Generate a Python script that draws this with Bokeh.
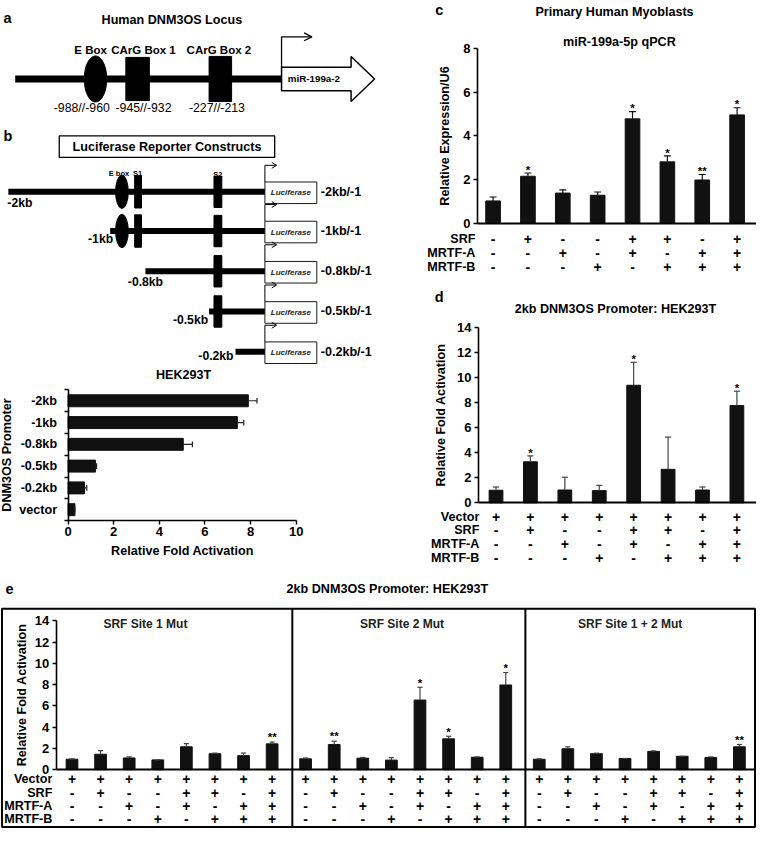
from bokeh.plotting import figure
from bokeh.models import Range1d, LinearAxis, FixedTicker
from bokeh.embed import file_html
from bokeh.resources import INLINE
from bokeh.core.properties import value

FONT = "Liberation Sans"

# ---------------- data ----------------
a_site_labels = ["-988//-960", "-945//-932", "-227//-213"]
a_element_labels = ["E Box", "CArG Box 1", "CArG Box 2"]

b_row_starts = ["-2kb", "-1kb", "-0.8kb", "-0.5kb", "-0.2kb"]
b_row_names = ["-2kb/-1", "-1kb/-1", "-0.8kb/-1", "-0.5kb/-1", "-0.2kb/-1"]

b_constructs = ["-2kb", "-1kb", "-0.8kb", "-0.5kb", "-0.2kb", "vector"]
b_values = [7.90, 7.42, 5.05, 1.20, 0.72, 0.30]
b_errors = [0.38, 0.28, 0.40, 0.05, 0.10, 0.00]
b_ticks = [0, 2, 4, 6, 8, 10]

cond_labels = ["Vector", "SRF", "MRTF-A", "MRTF-B"]
cond_vector = ["+", "+", "+", "+", "+", "+", "+", "+"]
cond_srf = ["-", "+", "-", "-", "+", "+", "-", "+"]
cond_mrtfa = ["-", "-", "+", "-", "+", "-", "+", "+"]
cond_mrtfb = ["-", "-", "-", "+", "-", "+", "+", "+"]

c_values = [1.02, 2.15, 1.38, 1.28, 4.78, 2.81, 1.98, 4.96]
c_errors = [0.18, 0.15, 0.15, 0.15, 0.33, 0.27, 0.25, 0.33]
c_sig = ["", "*", "", "", "*", "*", "**", "*"]
c_ticks = [0, 2, 4, 6, 8]

d_values = [1.00, 3.27, 1.02, 0.97, 9.37, 2.67, 1.02, 7.75]
d_errors = [0.26, 0.47, 1.02, 0.42, 1.83, 2.57, 0.24, 1.15]
d_sig = ["", "*", "", "", "*", "", "", "*"]
d_ticks = [0, 2, 4, 6, 8, 10, 12, 14]

e_groups = ["SRF Site 1 Mut", "SRF Site 2 Mut", "SRF Site 1 + 2 Mut"]
e_site1_values = [0.98, 1.45, 1.10, 0.92, 2.15, 1.50, 1.32, 2.43]
e_site1_errors = [0.04, 0.35, 0.10, 0.00, 0.30, 0.05, 0.23, 0.17]
e_site1_sig = ["", "", "", "", "", "", "", "**"]
e_site2_values = [1.02, 2.37, 1.08, 0.90, 6.55, 2.90, 1.17, 7.97]
e_site2_errors = [0.08, 0.31, 0.07, 0.23, 1.20, 0.24, 0.03, 1.17]
e_site2_sig = ["", "**", "", "", "*", "*", "", "*"]
e_site12_values = [0.98, 1.97, 1.50, 1.05, 1.72, 1.26, 1.14, 2.15]
e_site12_errors = [0.04, 0.18, 0.05, 0.00, 0.05, 0.00, 0.06, 0.22]
e_site12_sig = ["", "", "", "", "", "", "", "**"]
e_ticks = [0, 2, 4, 6, 8, 10, 12, 14]

# ---------------- canvas (reference pixel frame) ----------------
W, H = 772, 845
p = figure(width=756, height=829, x_range=Range1d(0, W), y_range=Range1d(H, 0),
           x_axis_type=None, y_axis_type=None, toolbar_location=None,
           output_backend="svg", min_border=0)
p.outline_line_color = None

TXT = "12.6px"


def xrange_px(origin, scale):
    return Range1d((0 - origin) / scale, (W - origin) / scale)


def yrange_px(origin, scale):
    return Range1d((origin - H) / scale, origin / scale)


p.extra_x_ranges = {"bx": xrange_px(69, 23.3), "cx": xrange_px(503, 35.6),
                    "dx": xrange_px(506, 35.14), "ex": xrange_px(73, 29.2)}
p.extra_y_ranges = {"by": yrange_px(519, 22.2), "cy": yrange_px(227, 22.25),
                    "dy": yrange_px(512, 12.786), "ey": yrange_px(784, 10.83)}


def txt(x, y, s, size=TXT, align="center", style="bold", baseline="middle",
        color="black", xr="default", yr="default"):
    p.text(x=x, y=y, text=s, text_font=value(FONT), text_font_size=size,
           text_font_style=style, text_align=align, text_baseline=baseline,
           text_color=color, x_range_name=xr, y_range_name=yr)


def style_axis(ax, standoff=3, label_standoff=6):
    ax.axis_line_color = "black"
    ax.axis_line_width = 1.6
    ax.major_tick_line_color = "black"
    ax.major_tick_line_width = 1.4
    ax.major_tick_out = 4
    ax.major_tick_in = 0
    ax.minor_tick_line_color = None
    ax.major_label_text_font = FONT
    ax.major_label_text_font_style = "bold"
    ax.major_label_text_font_size = "13px"
    ax.major_label_text_color = "black"
    ax.axis_label_text_font = FONT
    ax.axis_label_text_font_style = "bold"
    ax.axis_label_text_font_size = TXT
    ax.axis_label_text_color = "black"
    ax.major_label_standoff = standoff
    ax.axis_label_standoff = label_standoff


def baseline_axis(xr, yr, lo, hi):
    ax = LinearAxis(x_range_name=xr, y_range_name=yr, fixed_location=0,
                    ticker=FixedTicker(ticks=[]), bounds=(lo, hi))
    ax.axis_line_color = "black"
    ax.axis_line_width = 1.8
    ax.major_tick_line_color = None
    ax.minor_tick_line_color = None
    ax.major_label_text_font_size = "0px"
    p.add_layout(ax, "below")


def vbars(pos, vals, errs, sig, width, cap, star_off, xr, yr, err_color="#222"):
    tops = [v + e for v, e in zip(vals, errs)]
    p.vbar(x=pos, top=vals, bottom=0, width=width, color="#111111",
           x_range_name=xr, y_range_name=yr)
    p.segment(x0=pos, x1=pos, y0=vals, y1=tops, line_color=err_color, line_width=1.2,
              x_range_name=xr, y_range_name=yr)
    p.segment(x0=[x - cap for x in pos], x1=[x + cap for x in pos], y0=tops, y1=tops,
              line_color=err_color, line_width=1.2, x_range_name=xr, y_range_name=yr)
    txt(pos, [t + star_off for t in tops], sig, size="11.5px", baseline="alphabetic",
        xr=xr, yr=yr)


def table(pos, rows, row_y, label_x, xr):
    for row, y, lab in zip(rows, row_y, cond_labels[-len(rows):]):
        txt(pos, [y] * len(pos), row, size="14px", xr=xr)
        txt([label_x], [y], [lab], size=TXT, align="right")


# ---------------- panel a ----------------
txt([3], [18], ["a"], size="14.5px", align="left")
txt([175], [20], ["Human DNM3OS Locus"])
p.line([15, 287], [80, 80], line_width=7, color="black")
p.ellipse(x=[97], y=[80], width=[23], height=[47], color="black")
p.rect(x=[140, 224.5], y=[80, 80], width=[24, 23], height=[44, 46], color="black")
txt([92, 146, 223], [50, 50, 50], a_element_labels, size="11.5px")
txt([83, 146, 221], [110, 110, 110], a_site_labels, size="12.3px", style="normal")
p.patch([287, 358, 358, 382, 358, 358, 287], [68, 68, 57, 80, 103, 92, 92],
        fill_color="white", line_color="black", line_width=1.5)
p.line([287, 287, 316], [68, 37, 37], line_width=1.3, color="black")
p.line([310, 318, 310], [33, 37, 41], line_width=1.3, color="black")
txt([320], [80], ["miR-199a-2"], size="9.8px")

# ---------------- panel b: constructs ----------------
txt([3], [138], ["b"], size="14.5px", align="left")
p.quad(left=[60], right=[280], top=[138], bottom=[160], fill_color="white",
       line_color="black", line_width=1.3)
txt([170], [149.5], ["Luciferase Reporter Constructs"])
row_y = [195, 235, 276, 317, 358]
row_x0 = [8, 112, 148, 213, 240]
p.multi_line([[x0, 270] for x0 in row_x0], [[y, y] for y in row_y], line_width=6, color="black")
p.ellipse(x=[124, 124], y=row_y[:2], width=[13, 13], height=[34, 34], color="black")
p.rect(x=[140.5, 140.5], y=row_y[:2], width=[7, 7], height=[33, 33], color="black")
p.rect(x=[222] * 4, y=row_y[:4], width=[8] * 4, height=[32] * 4, color="black")
txt([121, 140, 222], [176, 176, 177], ["E box", "S1", "S2"], size="7.5px")
p.rect(x=[296.5] * 5, y=[y + 1 for y in row_y], width=[53] * 5, height=[22] * 5,
       fill_color="white", line_color="black", line_width=0.9)
txt([296.5] * 5, [y + 1 for y in row_y], ["Luciferase"] * 5, size="8px", style="bold italic",
    color="#222")
p.multi_line([[270, 270, 281] for _ in row_y], [[y - 10, y - 27, y - 27] for y in row_y],
             line_width=1, color="black")
p.multi_line([[277, 282, 277] for _ in row_y], [[y - 30, y - 27, y - 24] for y in row_y],
             line_width=1, color="black")
txt([327] * 5, row_y, b_row_names, align="left")
txt([7], [206], b_row_starts[:1], align="left", size="12.2px")
txt([115, 212, 238], [243, 326, 362], [b_row_starts[1], b_row_starts[3], b_row_starts[4]],
    align="right", size="12.2px")
txt([148], [287], b_row_starts[2:3], size="12.2px")

# ---------------- panel b: bar chart ----------------
txt([187], [382], ["HEK293T"])
b_pos = list(range(len(b_constructs)))[::-1]
b_tops = [v + e for v, e in zip(b_values, b_errors)]
p.hbar(y=b_pos, left=0, right=b_values, height=0.55, color="#111111",
       x_range_name="bx", y_range_name="by")
p.segment(x0=b_values, x1=b_tops, y0=b_pos, y1=b_pos, line_color="#222", line_width=1.2,
          x_range_name="bx", y_range_name="by")
p.segment(x0=b_tops, x1=b_tops, y0=[y - 0.13 for y in b_pos], y1=[y + 0.13 for y in b_pos],
          line_color="#222", line_width=1.2, x_range_name="bx", y_range_name="by")
ax = LinearAxis(y_range_name="by", fixed_location=69, bounds=(-0.5, 5.5),
                ticker=FixedTicker(ticks=b_pos,
                                   minor_ticks=[k - 0.5 for k in range(len(b_constructs) + 1)]),
                major_label_overrides={k: lab for k, lab in zip(b_pos, b_constructs)},
                axis_label="DNM3OS Promoter")
style_axis(ax, standoff=7, label_standoff=3)
ax.major_label_text_font_size = "12.6px"
ax.major_tick_out = 0
ax.major_tick_line_color = None
ax.minor_tick_line_color = "black"
ax.minor_tick_line_width = 1.3
ax.minor_tick_out = 4
ax.minor_tick_in = 0
p.add_layout(ax, "left")
ax = LinearAxis(x_range_name="bx", fixed_location=530, bounds=(0, 10),
                ticker=FixedTicker(ticks=b_ticks), axis_label="Relative Fold Activation")
style_axis(ax, standoff=3, label_standoff=4)
p.add_layout(ax, "below")

# ---------------- panel c ----------------
txt([448], [10], ["c"], size="14.5px")
txt([627], [12], ["Primary Human Myoblasts"])
txt([632], [42], ["miR-199a-5p qPCR"])
c_pos = list(range(len(c_values)))
vbars(c_pos, c_values, c_errors, c_sig, 0.42, 0.1, 0.15, "cx", "cy", err_color="#111")
ax = LinearAxis(y_range_name="cy", fixed_location=487, bounds=(0, 8),
                ticker=FixedTicker(ticks=c_ticks), axis_label="Relative Expression/U6")
style_axis(ax, standoff=3, label_standoff=8)
p.add_layout(ax, "left")
baseline_axis("cx", "cy", -0.45, 7.56)
table(c_pos, [cond_srf, cond_mrtfa, cond_mrtfb], [243, 257, 272], 485, "cx")

# ---------------- panel d ----------------
txt([448], [302], ["d"], size="14.5px")
txt([628], [314], ["2kb DNM3OS Promoter: HEK293T"])
d_pos = list(range(len(d_values)))
vbars(d_pos, d_values, d_errors, d_sig, 0.40, 0.09, 0.25, "dx", "dy", err_color="#444")
ax = LinearAxis(y_range_name="dy", fixed_location=488, bounds=(0, 14),
                ticker=FixedTicker(ticks=d_ticks), axis_label="Relative Fold Activation")
style_axis(ax, standoff=3, label_standoff=6)
p.add_layout(ax, "left")
baseline_axis("dx", "dy", -0.51, 7.57)
table(d_pos, [cond_vector, cond_srf, cond_mrtfa, cond_mrtfb], [526, 540, 554, 568], 489, "dx")

# ---------------- panel e ----------------
txt([5], [600], ["e"], size="14.5px", align="left")
txt([395], [600], ["2kb DNM3OS Promoter: HEK293T"])
p.quad(left=[1.5], right=[770.5], top=[620], bottom=[842.5], fill_color=None,
       line_color="black", line_width=2)
p.segment(x0=[298, 536], x1=[298, 536], y0=[620, 620], y1=[842.5, 842.5],
          line_color="black", line_width=2)
txt([148, 410, 643], [636, 636, 636], e_groups, size="12px", color="#222")
e_sets = [(e_site1_values, e_site1_errors, e_site1_sig),
          (e_site2_values, e_site2_errors, e_site2_sig),
          (e_site12_values, e_site12_errors, e_site12_sig)]
for g, (vals, errs, sig) in enumerate(e_sets):
    pos = [g * 8.17 + i for i in range(len(vals))]
    vbars(pos, vals, errs, sig, 0.41, 0.09, 0.45, "ex", "ey", err_color="#444")
    for row, y in zip([cond_vector, cond_srf, cond_mrtfa, cond_mrtfb], [794, 808, 821, 834]):
        txt(pos, [y] * len(pos), row, size="14px", xr="ex")
for lab, y in zip(cond_labels, [794, 808, 821, 834]):
    txt([53], [y], [lab], size=TXT, align="right")
ax = LinearAxis(y_range_name="ey", fixed_location=57, bounds=(0, 14),
                ticker=FixedTicker(ticks=e_ticks), axis_label="Relative Fold Activation")
style_axis(ax, standoff=3, label_standoff=3)
p.add_layout(ax, "left")
baseline_axis("ex", "ey", -0.55, 23.87)

open("out.html", "w").write(file_html(p, INLINE))
